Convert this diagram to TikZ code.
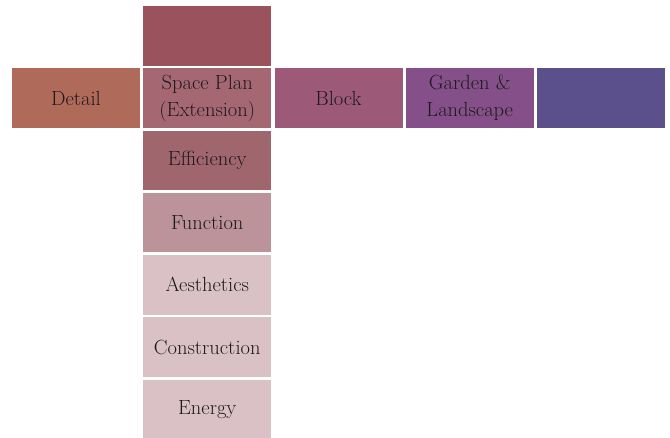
\documentclass[tikz,border=0pt]{standalone}
\usepackage{xcolor}
\usepackage{tikz}
\usetikzlibrary{positioning}
\definecolor{topred}{RGB}{154, 82, 92}
\definecolor{detailbrown}{RGB}{176, 106, 90}
\definecolor{planrose}{RGB}{165, 104, 115}
\definecolor{blockpink}{RGB}{157, 90, 120}
\definecolor{gardenpurple}{RGB}{133, 80, 138}
\definecolor{lastviolet}{RGB}{92, 80, 140}
\definecolor{effrose}{RGB}{160, 102, 110}
\definecolor{funcrose}{RGB}{188, 147, 152}
\definecolor{palerose}{RGB}{218, 193, 197}
\definecolor{inkgrey}{RGB}{30, 26, 28}

\begin{document}
\begin{tikzpicture}[x=1pt, y=1pt,
            cell/.style = {
                text=inkgrey,
                fill=#1,
                outer sep=0pt,
                inner sep=0pt,
                align=center,
                font=\fontsize{20.5}{27}\selectfont,
                minimum height=59.5pt,
                minimum width=128pt,
                },
            hgap/.style = {node distance=3.25pt},
            vgap/.style = {node distance=2.75pt}]
            \useasboundingbox (0,0) rectangle (670,-437);
            \clip (0,0) rectangle (670,-437);
            % middle row
            \node[cell=planrose] (plan) at (207.25,-98) {Space Plan\\(Extension)};
            \node[cell=detailbrown, hgap, left=of plan] (detail) {Detail};
            \node[cell=blockpink, hgap, right=of plan] (block) {Block};
            \node[cell=gardenpurple, hgap, right=of block] (garden) {Garden \&\\Landscape};
            \node[cell=lastviolet, hgap, right=of garden] (blank) {};
            % column
            \node[cell=topred, vgap, above=of plan] (top) {};
            \node[cell=effrose, vgap, below=of plan] (eff) {Efficiency};
            \node[cell=funcrose, vgap, below=of eff] (func) {Function};
            \node[cell=palerose, vgap, below=of func] (aest) {Aesthetics};
            \node[cell=palerose, vgap, below=of aest] (constr) {Construction};
            \node[cell=palerose, vgap, below=of constr] (energy) {Energy};
        \end{tikzpicture}
\end{document}
